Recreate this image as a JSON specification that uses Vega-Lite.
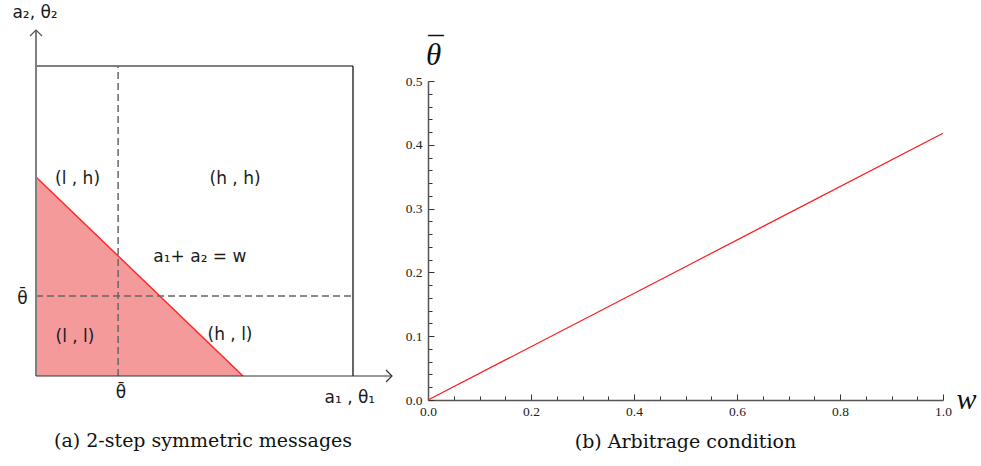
{
  "$schema": "https://vega.github.io/schema/vega-lite/v6.json",
  "padding": 0,
  "spacing": 28,
  "bounds": "flush",
  "config": {"view": {"stroke": null}},
  "datasets": {
    "tri": [{"u": 0, "v": 0.642}, {"u": 0.653, "v": 0}],
    "box": [{"u": 0, "v": 1, "u2": 1, "v2": 1}, {"u": 1, "v": 0, "u2": 1, "v2": 1}],
    "dash": [{"u": 0.259, "v": 0, "u2": 0.259, "v2": 1}, {"u": 0, "v": 0.258, "u2": 1, "v2": 0.258}],
    "yline": [{"u": 0, "v": 0, "u2": 0, "v2": 1.116}],
    "xline": [{"u": 0, "v": 0, "u2": 1.123, "v2": 0}],
    "arrows": [{"u": 0, "v": 1.116, "dir": "up"}, {"u": 1.123, "v": 0, "dir": "right"}],
    "labels": [
      {"label": "(l , h)", "u": 0.131, "v": 0.635},
      {"label": "(h , h)", "u": 0.628, "v": 0.635},
      {"label": "a₁+ a₂ = w", "u": 0.517, "v": 0.384},
      {"label": "(l , l)", "u": 0.123, "v": 0.126},
      {"label": "(h , l)", "u": 0.612, "v": 0.132},
      {"label": "θ̄", "u": -0.043, "v": 0.25},
      {"label": "θ̄", "u": 0.268, "v": -0.055},
      {"label": "a₁ , θ₁", "u": 0.99, "v": -0.071},
      {"label": "a₂, θ₂", "u": -0.003, "v": 1.171}
    ],
    "caption": [{"label": "(a) 2-step symmetric messages", "u": 0.527, "v": -0.21}],
    "curve": [{"w": 0, "theta": 0}, {"w": 0.5, "theta": 0.209}, {"w": 1, "theta": 0.418}]
  },
  "hconcat": [
    {
      "width": 400,
      "height": 466,
      "encoding": {
        "x": {"field": "u", "type": "quantitative", "axis": null, "scale": {"domain": [-0.1136, 1.1483], "nice": false, "zero": false}},
        "y": {"field": "v", "type": "quantitative", "axis": null, "scale": {"domain": [-0.2903, 1.2129], "nice": false, "zero": false}}
      },
      "layer": [
        {
          "data": {"name": "tri"},
          "mark": {"type": "area", "fill": "#f59a9a", "opacity": 1},
          "encoding": {"y2": {"datum": 0}}
        },
        {
          "data": {"name": "tri"},
          "mark": {"type": "line", "stroke": "#ff2a2a", "strokeWidth": 1.5}
        },
        {
          "data": {"name": "box"},
          "mark": {"type": "rule", "stroke": "#000000", "strokeWidth": 1.2},
          "encoding": {"x2": {"field": "u2"}, "y2": {"field": "v2"}}
        },
        {
          "data": {"name": "dash"},
          "mark": {"type": "rule", "stroke": "#666666", "strokeWidth": 1.5, "strokeDash": [7, 4]},
          "encoding": {"x2": {"field": "u2"}, "y2": {"field": "v2"}}
        },
        {
          "data": {"name": "yline"},
          "mark": {"type": "rule", "stroke": "#808080", "strokeWidth": 2},
          "encoding": {"x2": {"field": "u2"}, "y2": {"field": "v2"}}
        },
        {
          "data": {"name": "xline"},
          "mark": {"type": "rule", "stroke": "#333333", "strokeWidth": 1.2},
          "encoding": {"x2": {"field": "u2"}, "y2": {"field": "v2"}}
        },
        {
          "data": {"name": "arrows"},
          "mark": {"type": "point", "filled": false, "strokeWidth": 1.2, "size": 144, "opacity": 1},
          "encoding": {
            "shape": {"field": "dir", "type": "nominal", "legend": null, "scale": {"domain": ["up", "right"], "range": ["M-1,1L0,0L1,1", "M-1,-1L0,0L-1,1"]}},
            "color": {"field": "dir", "type": "nominal", "legend": null, "scale": {"domain": ["up", "right"], "range": ["#555555", "#333333"]}}
          }
        },
        {
          "data": {"name": "labels"},
          "mark": {"type": "text", "font": "DejaVu Sans", "fontSize": 17, "color": "#1a1a1a", "align": "center", "baseline": "middle"},
          "encoding": {"text": {"field": "label"}}
        },
        {
          "data": {"name": "caption"},
          "mark": {"type": "text", "font": "DejaVu Serif", "fontSize": 19, "color": "#111111", "align": "center", "baseline": "middle"},
          "encoding": {"text": {"field": "label"}}
        }
      ]
    },
    {
      "spacing": 0,
      "bounds": "flush",
      "vconcat": [
        {
          "width": 515,
          "height": 81,
          "data": {"values": []},
          "mark": "text",
          "encoding": {}
        },
        {
          "width": 515,
          "height": 319,
          "data": {"name": "curve"},
          "title": {"text": "(b) Arbitrage condition", "orient": "bottom", "font": "DejaVu Serif", "fontSize": 19, "fontWeight": "normal", "color": "#111111", "offset": 15, "anchor": "middle"},
          "mark": {"type": "line", "stroke": "#ff1a1a", "strokeWidth": 1.2},
          "encoding": {
            "x": {
              "field": "w", "type": "quantitative",
              "scale": {"domain": [0, 1], "nice": false, "zero": false},
              "axis": {
                "values": [0, 0.05, 0.1, 0.15, 0.2, 0.25, 0.3, 0.35, 0.4, 0.45, 0.5, 0.55, 0.6, 0.65, 0.7, 0.75, 0.8, 0.85, 0.9, 0.95, 1],
                "labelExpr": "abs(datum.value*5 - round(datum.value*5)) < 0.001 ? format(datum.value, '.1f') : ''",
                "tickSize": {"condition": {"test": "abs(datum.value*5 - round(datum.value*5)) < 0.001", "value": -6}, "value": -4},
                "labelPadding": 10,
                "labelFlush": false,
                "labelFont": "Liberation Serif",
                "labelFontSize": 13.5,
                "labelColor": "#222222",
                "domainColor": "#555555",
                "domainWidth": 1.5,
                "tickColor": "#333333",
                "tickWidth": 1,
                "grid": false,
                "title": "w",
                "titleFont": "Liberation Serif",
                "titleFontStyle": "italic",
                "titleFontWeight": "normal",
                "titleFontSize": 30,
                "titleColor": "#111111",
                "titleX": 538,
                "titleY": 8,
                "titleAlign": "center",
                "titleBaseline": "alphabetic",
                "titleAngle": 0
              }
            },
            "y": {
              "field": "theta", "type": "quantitative",
              "scale": {"domain": [0, 0.5], "nice": false, "zero": false},
              "axis": {
                "values": [0, 0.02, 0.04, 0.06, 0.08, 0.1, 0.12, 0.14, 0.16, 0.18, 0.2, 0.22, 0.24, 0.26, 0.28, 0.3, 0.32, 0.34, 0.36, 0.38, 0.4, 0.42, 0.44, 0.46, 0.48, 0.5],
                "labelExpr": "abs(datum.value*10 - round(datum.value*10)) < 0.001 ? format(datum.value, '.1f') : ''",
                "tickSize": {"condition": {"test": "abs(datum.value*10 - round(datum.value*10)) < 0.001", "value": -6}, "value": -4},
                "labelPadding": 12,
                "labelFlush": false,
                "labelFont": "Liberation Serif",
                "labelFontSize": 13.5,
                "labelColor": "#222222",
                "domainColor": "#555555",
                "domainWidth": 1.5,
                "tickColor": "#333333",
                "tickWidth": 1,
                "grid": false,
                "title": ["¯", "θ"],
                "titleFont": "Liberation Serif",
                "titleFontStyle": "italic",
                "titleFontWeight": "normal",
                "titleFontSize": 31,
                "titleLineHeight": 5.4,
                "titleColor": "#111111",
                "titleX": 5,
                "titleY": -22.4,
                "titleAlign": "center",
                "titleBaseline": "alphabetic",
                "titleAngle": 0
              }
            }
          }
        }
      ]
    }
  ]
}
